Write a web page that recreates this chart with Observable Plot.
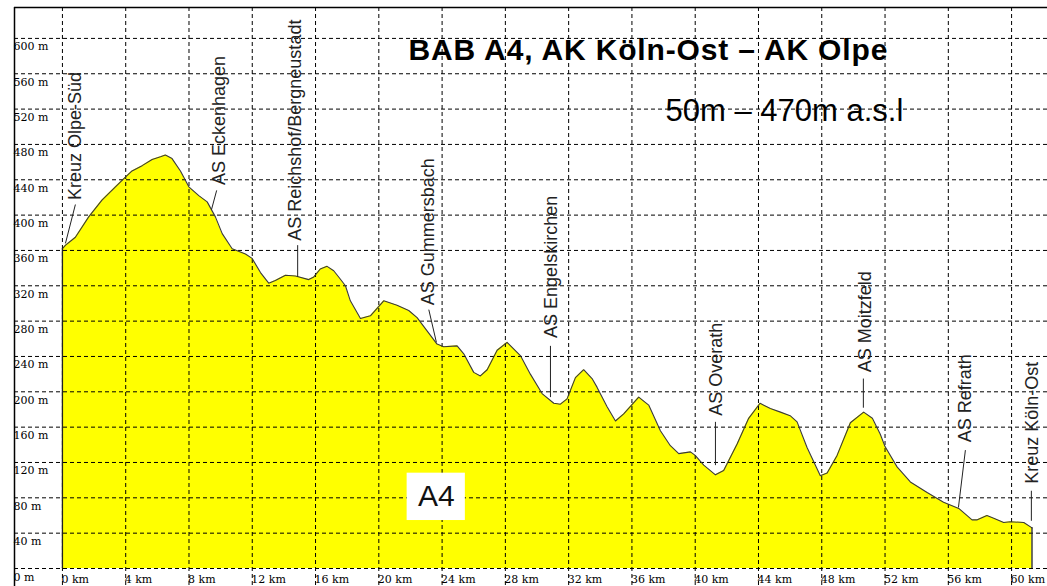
<!DOCTYPE html>
<html>
<head>
<meta charset="utf-8">
<script src="https://cdn.jsdelivr.net/npm/d3@7"></script>
<script src="https://cdn.jsdelivr.net/npm/@observablehq/plot@0.6"></script>
<style>
  body { margin: 0; background: #fff; }
  #chart svg { display: block; }
</style>
</head>
<body>
<div id="chart"></div>
<script>
// ---- Data ----
const profileKm = [0.0, 0.2, 0.82, 1.66, 2.5, 3.35, 3.98, 4.4, 5.04, 5.67, 6.2, 6.51, 6.93, 7.46, 7.99, 8.62, 9.15, 9.67, 10.1, 10.73,
  11.57, 11.99, 12.52, 13.04, 13.46, 14.1, 14.73, 15.57, 15.89, 16.3, 16.73, 17.15, 17.55, 17.89, 18.2, 18.84, 19.47, 20.31,
  21.15, 21.89, 22.42, 23.05, 23.68, 24.1, 24.95, 25.37, 26.0, 26.42, 26.85, 27.48, 28.11, 28.95, 29.58, 30.32, 31.06, 31.48,
  31.9, 32.43, 32.95, 33.48, 33.8, 34.43, 34.96, 35.48, 36.43, 37.06, 37.8, 38.43, 38.96, 39.7, 40.0, 40.54, 41.28, 41.8,
  42.65, 43.38, 44.1, 44.75, 45.39, 46.0, 46.44, 47.07, 47.91, 48.34, 48.97, 49.81, 50.65, 51.2, 51.7, 52.0, 52.76, 53.6,
  54.66, 55.7, 56.66, 57.5, 57.8, 58.44, 58.87, 59.5, 59.92, 60.77, 61.29];
const profileElevation = [362, 366, 375, 398, 417, 432, 443, 450, 456, 463, 466, 468, 464, 450, 432, 422, 415, 398, 379, 362,
  356, 351, 335, 323, 326, 332, 331, 327, 330, 339, 342, 337, 328, 320, 303, 283, 286, 303,
  298, 292, 284, 269, 254, 251, 252, 243, 222, 218, 225, 247, 256, 241, 220, 198, 187, 186,
  192, 216, 225, 215, 205, 183, 167, 175, 194, 185, 156, 139, 130, 132, 128, 117, 106, 111,
  141, 170, 187, 181, 177, 173, 166, 137, 105, 108, 128, 165, 177, 170, 152, 138, 115, 98,
  86, 75, 68, 55, 55, 60, 57, 52, 53, 52, 46];

const xTicks = [0, 4, 8, 12, 16, 20, 24, 28, 32, 36, 40, 44, 48, 52, 56, 60];
const yTicks = [0, 40, 80, 120, 160, 200, 240, 280, 320, 360, 400, 440, 480, 520, 560, 600];

const exitNames = ["Kreuz Olpe-Süd", "AS Eckenhagen", "AS Reichshof/Bergneustadt", "AS Gummersbach",
  "AS Engelskirchen", "AS Overath", "AS Moitzfeld", "AS Refrath", "Kreuz Köln-Ost"];
const exitLabelKm = [0.82, 9.9, 14.73, 23.1, 30.88, 41.34, 50.76, 57.08, 61.31];
const exitLabelElev = [417, 434, 371, 298, 261, 173, 222, 143, 96];
const leaderKm1 = [0.82, 9.75, 14.87, 23.16, 30.85, 41.28, 50.63, 57.08, 61.25];
const leaderElev1 = [412, 428, 366, 293, 252, 166, 215, 134, 88];
const leaderKm2 = [0.19, 9.42, 14.87, 23.64, 30.85, 41.28, 50.63, 56.64, 61.25];
const leaderElev2 = [368, 406, 330, 256, 194, 117, 182, 69, 54];

const title = "BAB A4, AK Köln-Ost – AK Olpe";
const subtitle = "50m – 470m a.s.l";
const roadLabel = "A4";
const roadLabelKm = 23.64, roadLabelElev = 81.5;
const roadBox = {x1: 21.79, x2: 25.47, y1: 54.3, y2: 107.9};

// ---- Build tables ----
const profile = profileKm.map((k, i) => ({km: k, m: profileElevation[i]}));
const exits = exitNames.map((n, i) => ({name: n, km: exitLabelKm[i], m: exitLabelElev[i]}));
const leaders = exitNames.map((n, i) => ({x1: leaderKm1[i], y1: leaderElev1[i], x2: leaderKm2[i], y2: leaderElev2[i]}));
const ends = [profile[0], profile[profile.length - 1]];

const xDomain = [-3.03, 62.27];
const yDomain = [0, 635];
const yBelow = -20.4;
const sans = "'Liberation Sans', Arial, Helvetica, sans-serif";
const serif = "'DejaVu Serif', serif";

const chart = Plot.plot({
  width: 1047,
  height: 586,
  marginLeft: 14,
  marginRight: 0,
  marginTop: 7,
  marginBottom: 18,
  x: {domain: xDomain, axis: null},
  y: {domain: yDomain, axis: null},
  style: {background: "#fff", fontFamily: serif, overflow: "visible"},
  marks: [
    Plot.areaY(profile, {x: "km", y: "m", fill: "#ffff00"}),
    Plot.ruleY(yTicks, {stroke: "#000", strokeWidth: 1, strokeDasharray: "4,3"}),
    Plot.ruleX(xTicks, {y1: yDomain[1], y2: yBelow, stroke: "#000", strokeWidth: 1, strokeDasharray: "4,3"}),
    Plot.lineY(profile, {x: "km", y: "m", stroke: "#3a3a3a", strokeWidth: 1.1}),
    Plot.ruleX(ends, {x: "km", y1: 0, y2: "m", stroke: "#222", strokeWidth: 1.3}),
    // frame
    Plot.ruleY([yDomain[1]], {stroke: "#000", strokeWidth: 1.5}),
    Plot.ruleX([xDomain[0]], {y1: yDomain[1], y2: yBelow, stroke: "#000", strokeWidth: 1.5}),
    // tick labels
    Plot.text(yTicks, {x: xDomain[0], y: d => d, text: d => `${d} m`, textAnchor: "start", lineAnchor: "bottom",
      dx: -1, dy: 12, fontSize: 11, fontFamily: serif, fill: "#000"}),
    Plot.text(xTicks, {x: d => d, y: 0, text: d => `${d} km`, textAnchor: "start", lineAnchor: "bottom",
      dx: -1, dy: 14, fontSize: 11, fontFamily: serif, fill: "#000"}),
    // exit labels
    Plot.link(leaders, {x1: "x1", y1: "y1", x2: "x2", y2: "y2", stroke: "#222", strokeWidth: 1}),
    Plot.text(exits, {x: "km", y: "m", text: "name", rotate: -90, textAnchor: "start", lineAnchor: "middle",
      fontSize: 18, fontFamily: sans, fill: "#222"}),
    // road label
    Plot.rect([roadBox], {x1: "x1", x2: "x2", y1: "y1", y2: "y2", fill: "#fff"}),
    Plot.text([roadLabel], {x: roadLabelKm, y: roadLabelElev, text: d => d, textAnchor: "middle", lineAnchor: "middle",
      fontSize: 30, fontFamily: sans, fill: "#111"}),
    // titles
    Plot.text([title], {frameAnchor: "top-left", text: d => d, textAnchor: "start", lineAnchor: "bottom",
      dx: 394, dy: 52, fontSize: 30, fontWeight: "bold", fontFamily: sans, fill: "#000"}),
    Plot.text([subtitle], {frameAnchor: "top-left", text: d => d, textAnchor: "start", lineAnchor: "bottom",
      dx: 651, dy: 113, fontSize: 31, fontFamily: sans, fill: "#000"})
  ]
});

d3.select(chart).selectAll("text").filter(function() { return this.textContent === title; })
  .attr("letter-spacing", "0.85");

document.getElementById("chart").appendChild(chart);
</script>
</body>
</html>
